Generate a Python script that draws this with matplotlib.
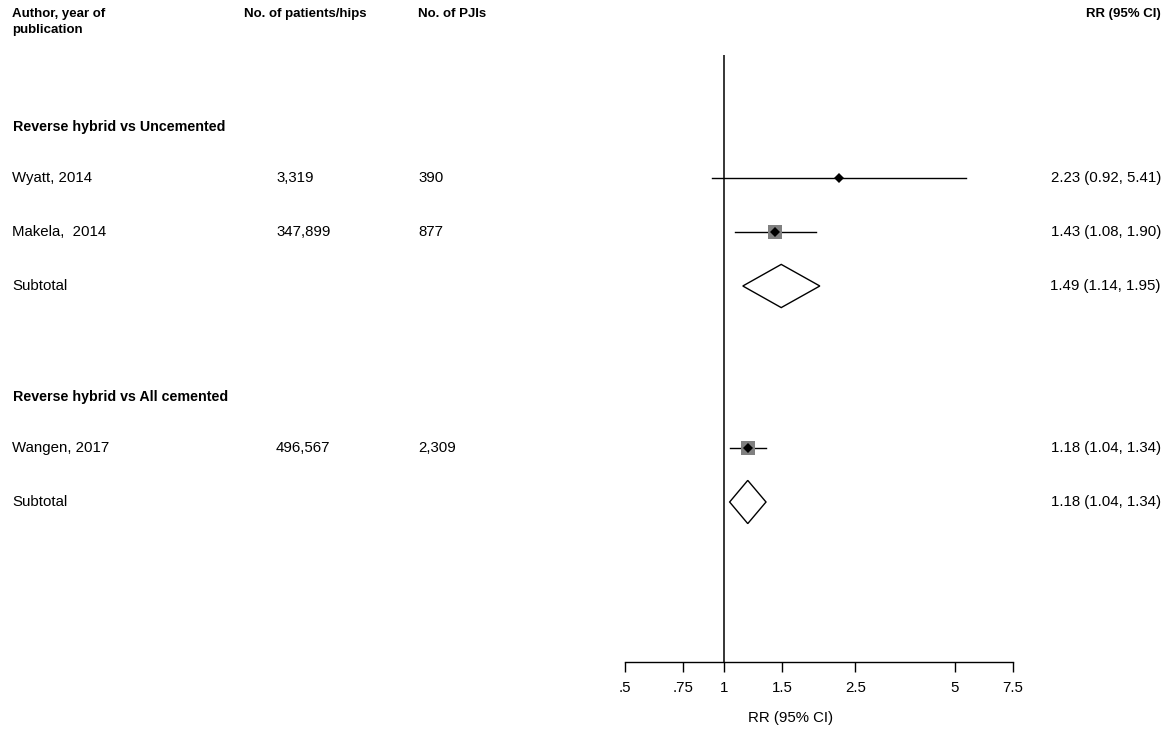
import numpy as np
import matplotlib.pyplot as plt
import matplotlib.transforms as mtransforms

plt.rcParams['font.family'] = ['Liberation Sans', 'DejaVu Sans']

# study rows (row index, label, patients, PJIs, RR, lower, upper)
groups = ["Reverse hybrid vs Uncemented", "Reverse hybrid vs All cemented"]
group_rows = [0, 5]

study_names = ["Wyatt, 2014", "Makela,  2014", "Wangen, 2017"]
study_rows = [1, 2, 6]
patients = ["3,319", "347,899", "496,567"]
pjis = ["390", "877", "2,309"]
rr = [2.23, 1.43, 1.18]
rr_lo = [0.92, 1.08, 1.04]
rr_hi = [5.41, 1.90, 1.34]
# box size (points) for each study, Wyatt box hidden under the point
box_size = [0, 9.5, 9.5]

subtotal_rows = [3, 7]
sub_rr = [1.49, 1.18]
sub_lo = [1.14, 1.04]
sub_hi = [1.95, 1.34]

xticks = [0.5, 0.75, 1, 1.5, 2.5, 5, 7.5]
xticklabels = [".5", ".75", "1", "1.5", "2.5", "5", "7.5"]

FS = 10.8      # body text
FSB = 9.5      # bold column headings
FSG = 10.3     # bold group headings

W, H = 1172, 731
fig = plt.figure(figsize=(W / 100, H / 100), dpi=100)

# forest panel, log scale: x pixel = 724 + 143.5*ln(RR)
px0, px1 = 560, 1060
xmin = np.exp((px0 - 724) / 143.5)
xmax = np.exp((px1 - 724) / 143.5)
ytop_px, ybot_px = 55, 662
row0_px, row_h = 124, 54
ax = fig.add_axes([px0 / W, 1 - ybot_px / H, (px1 - px0) / W, (ybot_px - ytop_px) / H])
ax.set_xscale('log')
ax.set_xlim(xmin, xmax)
ax.set_ylim((ybot_px - row0_px) / row_h, (ytop_px - row0_px) / row_h)

for s in ['top', 'right', 'left']:
    ax.spines[s].set_visible(False)
ax.spines['bottom'].set_bounds(xticks[0], xticks[-1])
ax.spines['bottom'].set_linewidth(1.0)
ax.set_yticks([])
ax.set_xticks(xticks)
ax.set_xticklabels(xticklabels, fontsize=FS)
ax.minorticks_off()
ax.tick_params(axis='x', length=7, width=1.0, pad=7)
ax.set_xlabel("RR (95% CI)", fontsize=FS, labelpad=11)
ax.xaxis.label.set_x((791 - px0) / (px1 - px0))

# line of no effect
ax.axvline(1, color='black', lw=1.1)

# study estimates
for i in range(len(study_names)):
    y = study_rows[i]
    ax.plot([rr_lo[i], rr_hi[i]], [y, y], color='black', lw=1.0)
    if box_size[i] > 0:
        ax.plot(rr[i], y, marker='s', ms=box_size[i], color='#808080', mew=0)
    ax.plot(rr[i], y, marker='D', ms=5, color='black', mew=0)

# pooled diamonds
for i in range(len(subtotal_rows)):
    y = subtotal_rows[i]
    ax.fill([sub_lo[i], sub_rr[i], sub_hi[i], sub_rr[i]],
            [y, y - 0.4, y, y + 0.4], facecolor='white', edgecolor='black', lw=1.0)

# text columns
tr = mtransforms.blended_transform_factory(fig.transFigure, ax.transData)


def fx(px):
    return px / W


hdr_y = 1 - 8 / H
fig.text(fx(12), hdr_y, "Author, year of\npublication", fontsize=FSB, fontweight='bold',
         va='top', ha='left', linespacing=1.45)
fig.text(fx(244), hdr_y, "No. of patients/hips", fontsize=FSB, fontweight='bold', va='top')
fig.text(fx(418), hdr_y, "No. of PJIs", fontsize=FSB, fontweight='bold', va='top')
fig.text(fx(1161), hdr_y, "RR (95% CI)", fontsize=FSB, fontweight='bold', va='top', ha='right')

for g, r in zip(groups, group_rows):
    ax.text(fx(13), r + 0.06, g, transform=tr, fontsize=FSG, fontweight='bold',
            va='center', ha='left', clip_on=False)

for i in range(len(study_names)):
    y = study_rows[i]
    ax.text(fx(12), y, study_names[i], transform=tr, fontsize=FS, va='center', clip_on=False)
    ax.text(fx(276), y, patients[i], transform=tr, fontsize=FS, va='center', clip_on=False)
    ax.text(fx(418), y, pjis[i], transform=tr, fontsize=FS, va='center', clip_on=False)
    ax.text(fx(1161), y, "%.2f (%.2f, %.2f)" % (rr[i], rr_lo[i], rr_hi[i]), transform=tr,
            fontsize=FS, va='center', ha='right', clip_on=False)

for i in range(len(subtotal_rows)):
    y = subtotal_rows[i]
    ax.text(fx(12), y, "Subtotal", transform=tr, fontsize=FS, va='center', clip_on=False)
    ax.text(fx(1161), y, "%.2f (%.2f, %.2f)" % (sub_rr[i], sub_lo[i], sub_hi[i]), transform=tr,
            fontsize=FS, va='center', ha='right', clip_on=False)

plt.savefig("out.png", dpi=100)
